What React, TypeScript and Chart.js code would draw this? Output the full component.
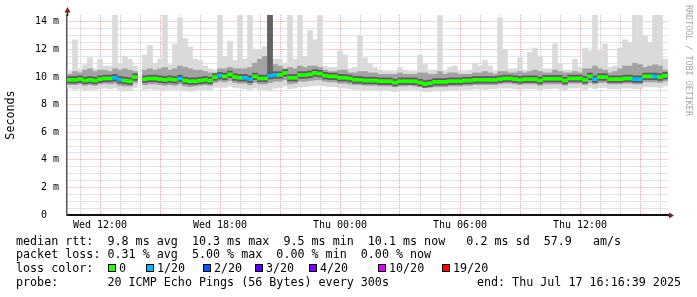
import React, { useEffect, useRef } from 'react';
import { Chart, registerables } from 'chart.js';

Chart.register(...registerables);

const MONO = '"DejaVu Sans Mono", monospace';

// Time axis in hours since Wed 00:00; one bucket = 15 minutes
const firstBucketHour = 10.5;
const bucketHours = 0.25;
const axisStartHour = 10.35;
const axisEndHour = 40.4;

// median RTT per bucket (ms), null = no data
const medianMs: (number | null)[] = [
  9.8, 9.8, 9.85, 9.75, 9.8, 9.75, 9.85, 9.9, 9.9, 9.95,
  9.8, 9.75, 9.7, 10.0, null, 9.85, 9.9, 9.9, 9.85, 9.8,
  9.85, 9.8, 9.9, 9.75, 9.7, 9.7, 9.75, 9.8, 9.75, 10.0,
  10.1, 10.05, 10.2, 10.0, 9.95, 9.95, 9.85, 10.05, 9.9, 9.9,
  10.1, 10.15, 10.15, 10.3, 9.95, 9.95, 10.15, 10.15, 10.2, 10.3,
  10.25, 10.1, 10.05, 10.05, 9.95, 9.95, 9.9, 9.8, 9.8, 9.75,
  9.75, 9.75, 9.7, 9.7, 9.7, 9.6, 9.7, 9.7, 9.7, 9.7,
  9.6, 9.5, 9.55, 9.65, 9.65, 9.65, 9.7, 9.7, 9.7, 9.75,
  9.75, 9.8, 9.8, 9.8, 9.8, 9.8, 9.85, 9.9, 9.9, 9.85,
  9.8, 9.85, 9.85, 9.85, 9.75, 9.88, 9.88, 9.88, 9.88, 9.75,
  9.9, 9.9, 9.9, 9.8, 10.05, 9.85, 10.0, 10.0, 9.85, 9.85,
  9.85, 9.9, 9.9, 9.85, 9.85, 10.05, 10.05, 10.05, 10.0, 10.1,
];

// lost pings (of 20) per bucket
const lossCount: number[] = [
  0, 0, 0, 0, 0, 0, 0, 0, 0, 1,
  1, 0, 0, 0, 0, 0, 0, 0, 0, 0,
  0, 0, 1, 0, 0, 0, 0, 0, 0, 0,
  1, 0, 0, 0, 0, 1, 1, 0, 0, 0,
  1, 1, 0, 0, 0, 0, 0, 0, 0, 0,
  0, 0, 0, 0, 0, 0, 0, 0, 0, 0,
  0, 0, 0, 0, 0, 0, 0, 0, 0, 0,
  0, 0, 0, 0, 0, 0, 0, 0, 0, 0,
  0, 0, 0, 0, 0, 0, 0, 0, 0, 0,
  0, 0, 0, 0, 0, 0, 0, 0, 0, 0,
  0, 0, 0, 0, 0, 1, 0, 0, 0, 0,
  0, 0, 0, 1, 1, 0, 0, 1, 0, 0,
];

// smoke: slowest ping per bucket (ms)
const maxMs: (number | null)[] = [
  10.4, 12.7, 10.6, 10.9, 11.4, 10.6, 11.3, 10.8, 10.8, 14.5,
  11.0, 11.5, 11.3, 10.8, null, 11.6, 12.3, 11.0, 11.3, 14.5,
  10.9, 12.4, 14.3, 12.8, 12.2, 11.3, 11.2, 10.8, 10.6, 10.5,
  14.5, 11.5, 12.6, 11.2, 14.5, 11.3, 14.5, 12.0, 12.0, 12.2,
  14.5, 11.3, 11.3, 11.0, 14.5, 11.3, 14.5, 11.5, 13.4, 12.7,
  14.5, 10.8, 10.7, 10.7, 11.9, 11.6, 10.6, 10.7, 13.0, 11.4,
  11.0, 10.7, 10.5, 10.4, 10.4, 10.4, 10.7, 10.5, 10.4, 10.4,
  11.6, 11.0, 10.5, 10.5, 14.5, 10.4, 10.7, 10.8, 10.4, 10.4,
  10.5, 11.0, 10.8, 11.2, 10.8, 10.4, 14.3, 12.0, 10.6, 10.6,
  11.4, 10.5, 11.8, 12.1, 11.5, 10.6, 10.6, 12.4, 11.0, 10.5,
  10.5, 11.3, 10.7, 12.1, 11.9, 14.5, 11.9, 12.4, 10.7, 10.8,
  12.1, 12.7, 12.5, 14.5, 14.5, 13.0, 12.5, 14.5, 14.5, 11.3,
];

// smoke: upper edge of the dense part (ms)
const hiMs: (number | null)[] = [
  10.2, 10.4, 10.3, 10.5, 10.6, 10.4, 10.5, 10.5, 10.4, 10.6,
  10.5, 10.6, 10.5, 10.4, null, 10.5, 10.6, 10.5, 10.6, 10.7,
  10.5, 10.6, 10.8, 10.7, 10.6, 10.5, 10.5, 10.4, 10.3, 10.3,
  10.6, 10.6, 10.7, 10.6, 10.6, 10.6, 10.7, 11.0, 11.3, 11.5,
  14.5, 10.9, 10.8, 10.6, 10.7, 10.6, 10.8, 10.7, 10.8, 10.8,
  10.7, 10.5, 10.4, 10.4, 10.5, 10.5, 10.3, 10.3, 10.4, 10.4,
  10.3, 10.3, 10.2, 10.2, 10.2, 10.2, 10.3, 10.2, 10.2, 10.2,
  10.3, 10.3, 10.2, 10.2, 10.4, 10.2, 10.3, 10.3, 10.2, 10.2,
  10.2, 10.3, 10.3, 10.4, 10.3, 10.2, 10.4, 10.4, 10.3, 10.3,
  10.4, 10.3, 10.4, 10.5, 10.4, 10.3, 10.3, 10.5, 10.4, 10.3,
  10.3, 10.4, 10.3, 10.6, 10.6, 10.8, 10.6, 10.5, 10.3, 10.4,
  10.6, 10.8, 10.8, 11.0, 10.9, 10.7, 10.8, 10.9, 10.8, 10.5,
];

// smoke: upper edge of the darkest part (ms); only where most pings were slow
const coreHiMs: (number | null)[] = [
  null, null, null, null, null, null, null, null, null, null,
  null, null, null, null, null, null, null, null, null, null,
  null, null, null, null, null, null, null, null, null, null,
  null, null, null, null, null, null, null, null, null, null,
  14.5, null, null, null, null, null, null, null, null, null,
  null, null, null, null, null, null, null, null, null, null,
  null, null, null, null, null, null, null, null, null, null,
  null, null, null, null, null, null, null, null, null, null,
  null, null, null, null, null, null, null, null, null, null,
  null, null, null, null, null, null, null, null, null, null,
  null, null, null, null, null, null, null, null, null, null,
  null, null, null, null, null, null, null, null, null, null,
];

// smoke: lower edge of the dense part (ms)
const loMs: (number | null)[] = [
  9.45, 9.45, 9.5, 9.4, 9.45, 9.4, 9.5, 9.55, 9.5, 9.55,
  9.4, 9.35, 9.35, 9.6, null, 9.45, 9.5, 9.5, 9.45, 9.4,
  9.45, 9.4, 9.5, 9.35, 9.3, 9.35, 9.4, 9.45, 9.4, 9.6,
  9.7, 9.65, 9.75, 9.6, 9.55, 9.55, 9.45, 9.6, 9.5, 9.5,
  9.6, 9.7, 9.7, 9.8, 9.5, 9.55, 9.7, 9.7, 9.75, 9.8,
  9.8, 9.7, 9.65, 9.65, 9.55, 9.55, 9.5, 9.45, 9.45, 9.4,
  9.4, 9.4, 9.35, 9.35, 9.35, 9.3, 9.35, 9.35, 9.4, 9.35,
  9.3, 9.25, 9.25, 9.3, 9.3, 9.3, 9.35, 9.35, 9.35, 9.4,
  9.4, 9.45, 9.45, 9.45, 9.45, 9.45, 9.5, 9.55, 9.55, 9.5,
  9.45, 9.5, 9.5, 9.5, 9.4, 9.5, 9.5, 9.5, 9.5, 9.4,
  9.55, 9.55, 9.55, 9.45, 9.6, 9.5, 9.6, 9.6, 9.5, 9.5,
  9.5, 9.55, 9.55, 9.5, 9.5, 9.65, 9.65, 9.65, 9.6, 9.7,
];

// smoke: fastest ping per bucket (ms)
const minMs: (number | null)[] = [
  9.2, 9.1, 9.15, 9.05, 9.1, 9.05, 9.15, 9.2, 9.15, 9.2,
  9.05, 9.0, 9.0, 9.25, null, 9.1, 9.15, 9.1, 9.1, 9.05,
  9.1, 9.05, 9.1, 9.0, 8.95, 9.0, 9.05, 9.1, 9.05, 9.25,
  9.3, 9.25, 9.35, 9.25, 9.2, 9.15, 9.1, 9.2, 9.1, 9.1,
  9.0, 9.2, 9.25, 9.35, 9.15, 9.2, 9.3, 9.3, 9.35, 9.4,
  9.4, 9.35, 9.3, 9.3, 9.2, 9.2, 9.15, 9.1, 9.1, 9.05,
  9.05, 9.05, 9.0, 9.05, 9.0, 8.95, 9.05, 9.05, 9.1, 9.05,
  9.0, 8.95, 8.95, 9.0, 9.0, 9.0, 9.05, 9.05, 9.05, 9.1,
  9.1, 9.15, 9.15, 9.1, 9.15, 9.15, 9.2, 9.2, 9.2, 9.15,
  9.1, 9.15, 9.15, 9.15, 9.05, 9.15, 9.15, 9.2, 9.15, 9.05,
  9.2, 9.2, 9.2, 9.1, 9.25, 9.15, 9.25, 9.25, 9.15, 9.15,
  9.15, 9.2, 9.2, 9.15, 9.15, 9.3, 9.3, 9.3, 9.25, 9.35,
];

// axes
const xGridHours = [11, 12, 13, 14, 15, 16, 17, 18, 19, 20, 21, 22, 23, 24, 25, 26, 27, 28, 29, 30, 31, 32, 33, 34, 35, 36, 37, 38, 39, 40];
const xTickHours = [12, 18, 24, 30, 36];
const xTickLabels = ['Wed 12:00', 'Wed 18:00', 'Thu 00:00', 'Thu 06:00', 'Thu 12:00'];
const yGridValues = [0, 0.5, 1, 1.5, 2, 2.5, 3, 3.5, 4, 4.5, 5, 5.5, 6, 6.5, 7, 7.5, 8, 8.5, 9, 9.5, 10, 10.5, 11, 11.5, 12, 12.5, 13, 13.5, 14];
const yTickValues = [0, 2, 4, 6, 8, 10, 12, 14];
const yTickLabels = ['0  ', '2 m', '4 m', '6 m', '8 m', '10 m', '12 m', '14 m'];

// loss colours
const lossLevels = [0, 1, 2, 3, 4, 10, 19];
const lossLabels = ['0', '1/20', '2/20', '3/20', '4/20', '10/20', '19/20'];
const lossColors = ['#26ff00', '#00b8ff', '#0059ff', '#5e00ff', '#7e00ff', '#dd00ff', '#ff0000'];

const legendRows = [
  'median rtt:  9.8 ms avg  10.3 ms max  9.5 ms min  10.1 ms now   0.2 ms sd  57.9   am/s',
  'packet loss: 0.31 % avg  5.00 % max  0.00 % min  0.00 % now',
  'loss color:',
  'probe:       20 ICMP Echo Pings (56 Bytes) every 300s',
];
const endText = 'end: Thu Jul 17 16:16:39 2025';
const watermark = 'RRDTOOL / TOBI OETIKER';

const MINOR = '#c8c8c8';
const MAJOR = 'rgba(222,79,79,0.5)';

function lossColorFor(n: number): string {
  let c = lossColors[0];
  lossLevels.forEach((lv, k) => {
    if (n >= lv) c = lossColors[k];
  });
  return c;
}

const decorPlugin = {
  id: 'smokeDecor',
  afterDraw(chart: any) {
    const { ctx, chartArea } = chart;
    const { left, right, top, bottom } = chartArea;
    ctx.save();
    // axis extensions
    ctx.strokeStyle = '#2a2a2a';
    ctx.lineWidth = 1.5;
    ctx.beginPath();
    ctx.moveTo(Math.round(left) + 0.5, top + 1);
    ctx.lineTo(Math.round(left) + 0.5, top - 4);
    ctx.moveTo(right - 1, Math.round(bottom) + 0.5);
    ctx.lineTo(right + 3, Math.round(bottom) + 0.5);
    ctx.stroke();
    // arrows
    ctx.fillStyle = '#801f1f';
    const ax = Math.round(left) + 0.5;
    ctx.beginPath();
    ctx.moveTo(ax, top - 8);
    ctx.lineTo(ax - 3, top - 2.5);
    ctx.lineTo(ax + 3, top - 2.5);
    ctx.closePath();
    ctx.fill();
    const ay = Math.round(bottom) + 0.5;
    ctx.beginPath();
    ctx.moveTo(right + 6, ay);
    ctx.lineTo(right + 1, ay - 3);
    ctx.lineTo(right + 1, ay + 3);
    ctx.closePath();
    ctx.fill();

    // legend text
    ctx.fillStyle = '#000';
    ctx.font = `11.7px ${MONO}`;
    ctx.textAlign = 'left';
    ctx.textBaseline = 'alphabetic';
    const baselines = [244.5, 258.4, 272.3, 286.2];
    legendRows.forEach((row, r) => ctx.fillText(row, 16, baselines[r]));
    ctx.textAlign = 'right';
    ctx.fillText(endText, 681, baselines[3]);
    ctx.textAlign = 'left';
    const boxX = [108, 146, 203, 255, 309, 378, 442];
    lossLabels.forEach((lab, k) => {
      const bx = boxX[k];
      ctx.fillStyle = '#000';
      ctx.fillRect(bx, 264, 8, 8);
      ctx.fillStyle = lossColors[k];
      ctx.fillRect(bx + 1, 265, 6, 6);
      ctx.fillStyle = '#000';
      ctx.fillText(lab, bx + 11, baselines[2]);
    });

    // watermark
    ctx.save();
    ctx.translate(688.5, 5);
    ctx.rotate(Math.PI / 2);
    ctx.font = `8.4px ${MONO}`;
    ctx.fillStyle = '#a8a8a8';
    ctx.textAlign = 'left';
    ctx.textBaseline = 'middle';
    ctx.fillText(watermark, 0, 0);
    ctx.restore();
    ctx.restore();
  },
};

export default function App() {
  const canvasRef = useRef<HTMLCanvasElement | null>(null);

  useEffect(() => {
    if (!canvasRef.current) return;
    const idx = medianMs.map((_, i) => i).filter((i) => medianMs[i] !== null);
    const hourAt = (i: number) => firstBucketHour + i * bucketHours;
    const band = (lo: (number | null)[], hi: (number | null)[]) =>
      idx.filter((i) => lo[i] !== null && hi[i] !== null)
        .map((i) => ({ x: hourAt(i), y: [lo[i] as number, hi[i] as number] }));
    const medianBand = (half: number) =>
      idx.map((i) => ({ x: hourAt(i), y: [(medianMs[i] as number) - half, (medianMs[i] as number) + half] }));

    const common = {
      barPercentage: 1,
      categoryPercentage: 1,
      grouped: false,
      borderWidth: 0,
    };

    const chart = new Chart(canvasRef.current, {
      type: 'bar',
      data: {
        datasets: [
          { ...common, label: 'smoke', data: band(minMs, maxMs), backgroundColor: '#dadada', order: 5 },
          { ...common, label: 'smoke dense', data: band(loMs, hiMs), backgroundColor: '#a2a2a2', order: 4 },
          { ...common, label: 'smoke core', data: band(medianMs, coreHiMs), backgroundColor: '#626262', order: 3 },
          { ...common, label: 'median shade', data: medianBand(0.24), backgroundColor: '#5c5c5c', order: 2 },
          {
            ...common,
            label: 'median rtt',
            data: medianBand(0.11),
            backgroundColor: idx.map((i) => lossColorFor(lossCount[i])),
            order: 1,
          },
        ] as any,
      },
      options: {
        responsive: false,
        animation: false,
        devicePixelRatio: 1,
        layout: { padding: { top: 15, right: 29, bottom: 0, left: 0 } },
        plugins: { legend: { display: false }, tooltip: { enabled: false } },
        scales: {
          x: {
            type: 'linear',
            min: axisStartHour,
            max: axisEndHour,
            offset: false,
            afterBuildTicks: (s: any) => {
              s.ticks = xGridHours.map((v) => ({ value: v }));
            },
            afterFit: (s: any) => {
              s.height = 82;
            },
            ticks: {
              autoSkip: false,
              maxRotation: 0,
              padding: 4,
              color: '#000',
              font: { family: MONO, size: 10 },
              callback: (v: any) => {
                const k = xTickHours.indexOf(Number(v));
                return k >= 0 ? xTickLabels[k] : '';
              },
            },
            grid: {
              offset: false,
              drawTicks: false,
              lineWidth: 1,
              color: (c: any) => (c.tick && c.tick.value % 3 === 0 ? MAJOR : MINOR),
            },
            border: { display: true, color: '#111111', width: 2, dash: [1, 1] },
          },
          y: {
            type: 'linear',
            min: 0,
            max: 14.5,
            afterBuildTicks: (s: any) => {
              s.ticks = yGridValues.map((v) => ({ value: v }));
            },
            afterFit: (s: any) => {
              s.width = 67;
            },
            ticks: {
              autoSkip: false,
              padding: 8,
              color: '#000',
              font: { family: MONO, size: 10 },
              callback: (v: any) => {
                const k = yTickValues.indexOf(Number(v));
                return k >= 0 ? yTickLabels[k] : '';
              },
            },
            grid: {
              drawTicks: false,
              lineWidth: 1,
              color: (c: any) => (c.tick && c.tick.value % 2 === 0 ? MAJOR : MINOR),
            },
            border: { display: true, color: '#555555', width: 1.5, dash: [1, 1] },
            title: {
              display: true,
              text: 'Seconds',
              color: '#000',
              font: { family: MONO, size: 11.7 },
              padding: { top: 4, bottom: 0 },
            },
          },
        },
      } as any,
      plugins: [decorPlugin],
    });
    return () => chart.destroy();
  }, []);

  return (
    <div style={{ position: 'fixed', left: 0, top: 0, width: 697, height: 297, background: '#fff' }}>
      <canvas ref={canvasRef} width={697} height={297} style={{ display: 'block', width: 697, height: 297 }} />
    </div>
  );
}
